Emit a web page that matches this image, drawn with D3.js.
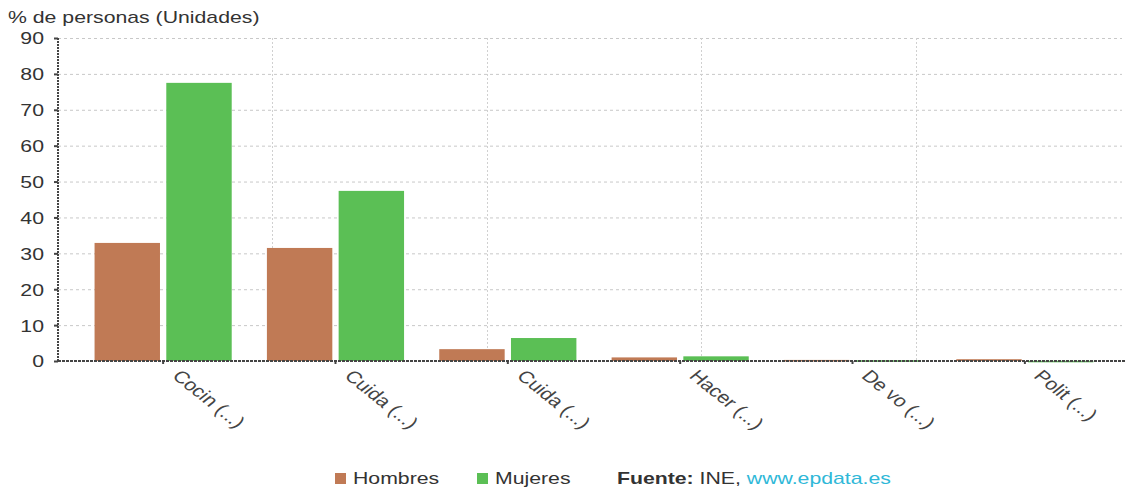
<!DOCTYPE html>
<html><head><meta charset="utf-8">
<script src="https://cdn.jsdelivr.net/npm/d3@7"></script>
<style>body{margin:0;background:#fff;font-family:"Liberation Sans",Arial,sans-serif;}</style>
</head><body><svg id="c" width="1125" height="489"></svg>
<script>
const categories = ["Cocin (...)", "Cuida (...)", "Cuida (...)", "Hacer (...)", "De vo (...)", "Polit (...)"];
const seriesNames = ["Hombres", "Mujeres"];
const hombres = [32.9, 31.5, 3.3, 1.0, 0.3, 0.5];
const mujeres = [77.5, 47.4, 6.4, 1.3, 0.2, 0.05];
const yTicks = [0, 10, 20, 30, 40, 50, 60, 70, 80, 90];
const colors = ["#c07a55", "#5bbf55"];

const SX = 1.25; // horizontal text stretch of the reference
const FONT = "Liberation Sans, Arial, sans-serif";
const svg = d3.select("#c");
const L = 58, R = 1130, T = 38, B = 361;
const x = d3.scaleBand().domain(d3.range(categories.length)).range([L, R]).paddingOuter(0.11).paddingInner(0);
const y = d3.scaleLinear().domain([0, 90]).range([B, T]);
const xs = d3.scaleBand().domain(seriesNames).range([17.6, x.bandwidth() - 17.6]).paddingInner(0.088).paddingOuter(0);
const grid = d3.scaleLinear().domain([0, 5]).range([L, R]);

function stretchText(sel, tx, ty, extra) {
  sel.attr("x", 0).attr("y", 0).attr("transform", `translate(${tx},${ty}) scale(${SX},1)` + (extra || ""));
}

// horizontal grid
svg.append("g").selectAll("line").data(yTicks.slice(1)).join("line")
  .attr("x1", L).attr("x2", 1122).attr("y1", d => y(d)+0.5).attr("y2", d => y(d)+0.5)
  .attr("stroke", "#c8c8c8").attr("stroke-dasharray", "3,3");
// vertical grid
svg.append("g").selectAll("line").data([1,2,3,4]).join("line")
  .attr("x1", d => Math.round(grid(d))+0.5).attr("x2", d => Math.round(grid(d))+0.5).attr("y1", T).attr("y2", B)
  .attr("stroke", "#d0d0d0").attr("stroke-dasharray", "2,2");

// bars
const data = categories.map((c, i) => ({i, vals: [hombres[i], mujeres[i]]}));
const g = svg.append("g").selectAll("g").data(data).join("g").attr("transform", d => `translate(${x(d.i)},0)`);
g.selectAll("rect").data(d => d.vals.map((v, k) => ({k, v}))).join("rect")
  .attr("x", d => xs(seriesNames[d.k])).attr("width", xs.bandwidth())
  .attr("y", d => y(d.v)).attr("height", d => Math.max(B - y(d.v), 1.5))
  .attr("fill", d => colors[d.k]);

// y axis
const ya = svg.append("g").attr("transform", `translate(${L},0)`)
  .call(d3.axisLeft(y).tickValues(yTicks).tickSize(4).tickPadding(10));
ya.select(".domain").attr("stroke", "#444").attr("stroke-width", 2).attr("stroke-dasharray", "2,1").attr("d", `M0,${T}V${B}`);
ya.selectAll(".tick line").attr("stroke", "#444").attr("stroke-width", 2);
ya.selectAll(".tick text").attr("font-size", 17).attr("fill", "#333").attr("font-family", FONT)
  .attr("dy", "0.35em").each(function() { stretchText(d3.select(this), -14, 0); });

// x axis
const xa = svg.append("g").attr("transform", `translate(0,${B})`)
  .call(d3.axisBottom(x).tickFormat(i => categories[i]).tickSize(3));
xa.select(".domain").attr("stroke", "#444").attr("stroke-width", 2).attr("stroke-dasharray", "3,1").attr("d", `M${L},0H1125`);
xa.selectAll(".tick line").attr("stroke", "#444").attr("stroke-width", 2);
xa.selectAll(".tick text").attr("font-size", 17).attr("fill", "#444").attr("font-family", FONT)
  .attr("text-anchor", "start").attr("dy", null)
  .each(function() { stretchText(d3.select(this), 8, 16, " rotate(45)"); });

// title
stretchText(svg.append("text").attr("font-size", 17).attr("fill", "#333").attr("font-family", FONT)
  .text("% de personas (Unidades)"), 8, 23);

// legend
const lg = svg.append("g").attr("font-size", 17).attr("fill", "#333").attr("font-family", FONT);
const items = [{x: 335, n: seriesNames[0], c: colors[0]}, {x: 477, n: seriesNames[1], c: colors[1]}];
items.forEach(it => {
  lg.append("rect").attr("x", it.x).attr("y", 473).attr("width", 11).attr("height", 11).attr("fill", it.c);
  stretchText(lg.append("text").text(it.n), it.x + 18, 484);
});
const src = lg.append("text");
stretchText(src, 617, 484);
src.append("tspan").attr("font-weight", "bold").text("Fuente:");
src.append("tspan").text(" INE, ");
src.append("tspan").attr("fill", "#2fb8d8").text("www.epdata.es");
</script></body></html>
